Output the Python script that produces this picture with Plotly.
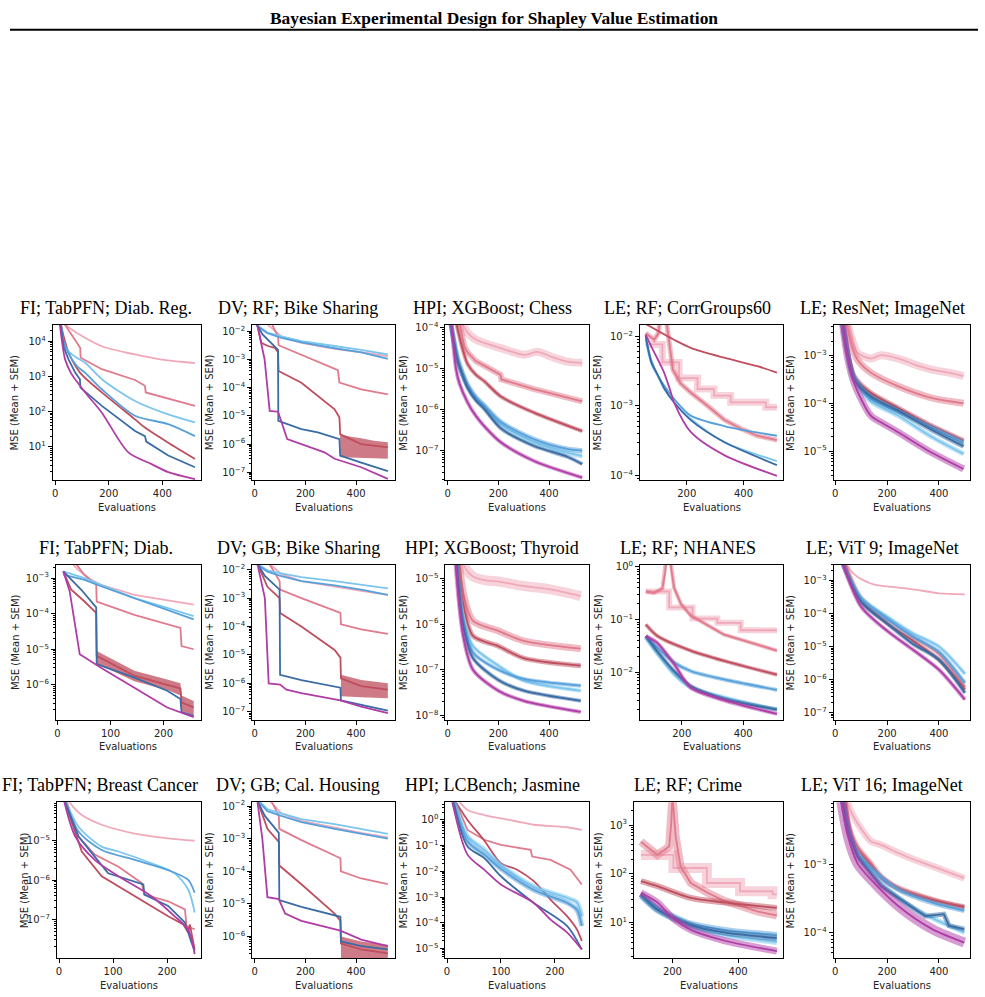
import plotly.graph_objects as go

FIG_W, FIG_H = 985, 997

COLORS = {"pp": "#F0A9BA", "pk": "#E07A8C", "dr": "#BF4E5F",
          "lb": "#7CC6EE", "mb": "#56A0DB", "db": "#3B6CA4", "pu": "#B03CA6"}
ORDER = ["pp", "pk", "dr", "lb", "mb", "db", "pu"]

# ---------------- data (x = evaluations, y = MSE) ----------------
DIAB_REG = {
    "pp": ([30, 87, 174, 298, 398, 522], [3.2e4, 1.6e4, 7.2e3, 4.2e3, 3.0e3, 2.4e3]),
    "pk": ([25, 60, 93, 95, 174, 298, 335, 338, 422, 522], [4e4, 1.6e4, 6.5e3, 3.4e3, 1.6e3, 7.9e2, 5.4e2, 3.5e2, 2.3e2, 1.45e2]),
    "dr": ([18, 31, 50, 93, 174, 298, 335, 422, 522], [4e4, 1.4e4, 4.7e3, 1.26e3, 3.5e2, 60, 35, 13, 4.5]),
    "lb": ([22, 31, 50, 80, 112, 174, 298, 422, 522], [3e4, 9e3, 5.2e3, 3.4e3, 2.45e3, 8.3e2, 2e2, 83, 49]),
    "mb": ([22, 31, 50, 80, 112, 174, 298, 422, 522], [3e4, 1e4, 4.5e3, 2e3, 1.26e3, 4.3e2, 76, 44, 20]),
    "db": ([18, 31, 50, 75, 92, 94, 174, 298, 335, 340, 422, 522], [4e4, 7e3, 3e3, 1.26e3, 8.3e2, 4.8e2, 1.45e2, 28, 20, 14, 5.6, 2.6]),
    "pu": ([15, 25, 37, 60, 112, 174, 273, 360, 422, 522], [4e4, 1e4, 3e3, 1.2e3, 3.5e2, 93, 6.9, 3.2, 1.9, 1.2]),
}
BIKE_RF = {
    "pp": ([30, 105, 184, 315, 420, 525], [2.5e-2, 6.6e-3, 3.9e-3, 2.4e-3, 1.8e-3, 1.3e-3]),
    "pk": ([60, 92, 94, 184, 328, 334, 420, 525], [2.5e-2, 6.3e-3, 3.2e-3, 1.5e-3, 4.2e-4, 1.5e-4, 8.7e-5, 5.8e-5]),
    "dr": ([10, 26, 52, 79, 92, 94, 184, 315, 334, 337, 420, 525], [1.7e-2, 3.9e-3, 3.0e-3, 2.6e-3, 1.8e-3, 3.9e-4, 1.5e-4, 1.7e-5, 8.7e-6, 2.2e-6, 1.0e-6, 7.6e-7]),
    "lb": ([7, 50, 105, 184, 315, 420, 525], [1.7e-2, 9e-3, 6.6e-3, 4.5e-3, 3.0e-3, 2.2e-3, 1.5e-3]),
    "mb": ([7, 50, 105, 184, 315, 420, 525], [1.6e-2, 8.5e-3, 5.8e-3, 4e-3, 2.5e-3, 1.8e-3, 1.05e-3]),
    "db": ([10, 30, 92, 93, 184, 249, 334, 337, 420, 525], [1.7e-2, 7.9e-3, 2.2e-3, 6.6e-6, 3.4e-6, 2.6e-6, 1.5e-6, 3.9e-7, 2.2e-7, 1.1e-7]),
    "pu": ([10, 39, 59, 92, 128, 184, 275, 315, 420, 525], [1.7e-2, 1e-3, 1.5e-5, 1.4e-5, 1.5e-6, 1e-6, 5.1e-7, 3e-7, 1.5e-7, 5.8e-8]),
}
CHESS = {
    "pp": ([60, 79, 111, 144, 210, 302, 354, 407, 472, 531], [1.2e-4, 7.6e-5, 5.2e-5, 4.3e-5, 3.2e-5, 2.2e-5, 2.6e-5, 2.0e-5, 1.5e-5, 1.4e-5]),
    "pk": ([48, 66, 79, 111, 144, 208, 212, 341, 531], [1.2e-4, 3.5e-5, 2.5e-5, 1.55e-5, 1.2e-5, 7.2e-6, 5.5e-6, 3.2e-6, 1.6e-6]),
    "dr": ([35, 59, 79, 111, 144, 210, 341, 531], [1.2e-4, 3e-5, 1.3e-5, 7.2e-6, 5e-6, 2.1e-6, 8.5e-7, 3e-7]),
    "lb": ([13, 39, 59, 79, 111, 144, 210, 341, 472, 531], [1.2e-4, 1.7e-5, 7.2e-6, 3.8e-6, 1.95e-6, 1.23e-6, 4.4e-7, 1.6e-7, 8.9e-8, 7.4e-8]),
    "mb": ([13, 39, 59, 79, 111, 144, 210, 341, 472, 531], [1.2e-4, 1.8e-5, 7.6e-6, 4e-6, 2e-6, 1.26e-6, 5e-7, 1.9e-7, 1.1e-7, 1e-7]),
    "db": ([13, 39, 59, 79, 111, 144, 210, 341, 472, 531], [1.2e-4, 1.6e-5, 6.8e-6, 3.4e-6, 1.7e-6, 1.05e-6, 3.5e-7, 1.3e-7, 7.1e-8, 4.7e-8]),
    "pu": ([15, 33, 46, 79, 111, 144, 210, 341, 531], [1.2e-4, 1e-5, 4.5e-6, 1.5e-6, 7.1e-7, 4e-7, 1.6e-7, 5.6e-8, 2.2e-8]),
}
CORR60 = {
    "pp": ([55, 114, 114, 173, 173, 238, 238, 296, 296, 355, 355, 479, 479, 518],
           [7.6e-3, 7.6e-3, 4.2e-3, 4.2e-3, 2.5e-3, 2.5e-3, 1.74e-3, 1.74e-3, 1.4e-3, 1.4e-3, 1.12e-3, 1.12e-3, 9.5e-4, 9.5e-4]),
    "pk": ([55, 85, 100, 106, 118, 130, 151, 178, 214, 273, 332, 390, 449, 518],
           [1.1e-2, 8.9e-3, 1.1e-2, 3e-2, 5e-2, 1.45e-2, 3.3e-3, 2.1e-3, 1.55e-3, 1e-3, 6.3e-4, 4.7e-4, 3.7e-4, 3.2e-4]),
    "dr": ([55, 155, 214, 332, 449, 518], [1.5e-2, 8.9e-3, 6.8e-3, 4.9e-3, 3.7e-3, 3.0e-3]),
    "lb": ([55, 75, 97, 120, 155, 214, 332, 518], [8.9e-3, 4e-3, 2.7e-3, 1.74e-3, 1.12e-3, 6.5e-4, 3e-4, 1.6e-4]),
    "mb": ([55, 75, 97, 120, 155, 214, 332, 518], [1e-2, 4.5e-3, 2.8e-3, 1.95e-3, 1.26e-3, 7.2e-4, 5.1e-4, 3.7e-4]),
    "db": ([55, 75, 97, 120, 155, 214, 332, 518], [1e-2, 4.2e-3, 2.8e-3, 1.8e-3, 1.12e-3, 6.2e-4, 3e-4, 1.4e-4]),
    "pu": ([55, 75, 97, 120, 144, 155, 214, 332, 518], [1.05e-2, 7.1e-3, 4.7e-3, 3e-3, 1.55e-3, 1.12e-3, 4.2e-4, 1.95e-4, 9.8e-5]),
}
RESNET = {
    "pp": ([40, 61, 85, 137, 176, 241, 306, 371, 437, 495], [6.3e-3, 2.5e-3, 1.15e-3, 8.7e-4, 1.02e-3, 8.7e-4, 6.5e-4, 5.1e-4, 4.4e-4, 3.7e-4]),
    "pk": ([40, 61, 85, 137, 241, 371, 495], [6.3e-3, 1.8e-3, 8.3e-4, 4.4e-4, 2.3e-4, 1.3e-4, 1.0e-4]),
    "dr": ([25, 46, 72, 137, 241, 371, 495], [6.3e-3, 1.3e-3, 3.7e-4, 1.66e-4, 8.1e-5, 3.4e-5, 1.66e-5]),
    "lb": ([25, 46, 72, 137, 241, 371, 495], [6.3e-3, 1.2e-3, 3.2e-4, 1.1e-4, 5.6e-5, 2e-5, 8.7e-6]),
    "mb": ([25, 46, 72, 137, 241, 371, 495], [6.3e-3, 1.2e-3, 3.7e-4, 1.26e-4, 6.8e-5, 3.1e-5, 1.5e-5]),
    "db": ([25, 46, 72, 137, 241, 371, 495], [6.3e-3, 1.2e-3, 3.2e-4, 1.4e-4, 7.1e-5, 2.8e-5, 1.26e-5]),
    "pu": ([25, 46, 72, 137, 176, 241, 371, 495], [6.3e-3, 1e-3, 2.7e-4, 5.5e-5, 4e-5, 2.5e-5, 9.3e-6, 4.2e-6]),
}
DIAB = {
    "pp": ([10, 25, 39, 64, 82, 145, 207, 257], [5e-3, 2.8e-3, 1.7e-3, 8.9e-4, 6.5e-4, 3.4e-4, 2.45e-4, 1.8e-4]),
    "pk": ([10, 30, 50, 73, 74, 145, 232, 234, 257], [5e-3, 3.2e-3, 1.26e-3, 6.5e-4, 2.2e-4, 9.3e-5, 4e-5, 1.23e-5, 1e-5]),
    "dr": ([11, 26, 51, 73, 74, 145, 207, 232, 234, 257], [1.55e-3, 4.7e-4, 2.2e-4, 1.05e-4, 6.5e-6, 1.8e-6, 1e-6, 7.9e-7, 3.2e-7, 2.3e-7]),
    "lb": ([11, 51, 82, 145, 207, 257], [1.55e-3, 1e-3, 6.5e-4, 2.75e-4, 1.45e-4, 8.5e-5]),
    "mb": ([11, 51, 82, 145, 207, 257], [1.26e-3, 8.9e-4, 5.9e-4, 2.75e-4, 1.26e-4, 6.9e-5]),
    "db": ([11, 45, 73, 74, 145, 207, 232, 234, 257], [1.55e-3, 4.7e-4, 1.5e-4, 3.8e-6, 1.6e-6, 6.8e-7, 4e-7, 1.7e-7, 1.35e-7]),
    "pu": ([11, 23, 42, 82, 145, 207, 257], [1.55e-3, 4.3e-4, 7.2e-6, 3e-6, 8.3e-7, 2.3e-7, 1.23e-7]),
}
BIKE_GB = {
    "pp": ([35, 105, 184, 315, 420, 525], [2.5e-2, 7e-3, 4e-3, 2.5e-3, 1.8e-3, 1.3e-3]),
    "pk": ([45, 98, 100, 184, 338, 340, 420, 525], [2.5e-2, 4e-3, 2e-3, 1e-3, 3e-4, 1.2e-4, 8e-5, 5.5e-5]),
    "dr": ([10, 50, 98, 100, 184, 315, 338, 340, 420, 525], [1.7e-2, 2.5e-3, 1e-3, 3e-4, 1e-4, 1.5e-5, 8e-6, 1.5e-6, 8e-7, 6e-7]),
    "lb": ([7, 50, 105, 184, 315, 420, 525], [1.7e-2, 9.5e-3, 7.5e-3, 5.5e-3, 4e-3, 3e-3, 2.2e-3]),
    "mb": ([7, 50, 105, 184, 315, 420, 525], [1.6e-2, 8.5e-3, 6e-3, 4e-3, 2.8e-3, 2e-3, 1.3e-3]),
    "db": ([10, 40, 98, 100, 184, 338, 340, 420, 525], [1.7e-2, 6e-3, 2e-3, 2e-6, 1.3e-6, 7e-7, 2.5e-7, 1.8e-7, 1.1e-7]),
    "pu": ([10, 40, 55, 100, 125, 184, 338, 420, 525], [1.7e-2, 1e-3, 1e-6, 9e-7, 6e-7, 4.5e-7, 2.5e-7, 1.5e-7, 9e-8]),
}
THYROID = {
    "pp": ([55, 75, 100, 150, 200, 300, 400, 525], [2.5e-5, 1.5e-5, 1.1e-5, 9e-6, 8.5e-6, 6.8e-6, 5.8e-6, 4.1e-6]),
    "pk": ([45, 65, 100, 200, 300, 525], [2.5e-5, 4e-6, 1.17e-6, 7.1e-7, 4.3e-7, 2.9e-7]),
    "dr": ([40, 60, 100, 200, 300, 525], [2.5e-5, 3e-6, 5.5e-7, 3.3e-7, 1.8e-7, 1.23e-7]),
    "lb": ([35, 60, 100, 200, 300, 525], [2.5e-5, 1.5e-6, 3.3e-7, 1.23e-7, 5.8e-8, 3.5e-8]),
    "mb": ([35, 60, 100, 200, 300, 525], [2.5e-5, 1.3e-6, 2.4e-7, 1e-7, 6.3e-8, 4.5e-8]),
    "db": ([35, 60, 100, 200, 300, 525], [2.5e-5, 1e-6, 1.8e-7, 6e-8, 3.5e-8, 2.1e-8]),
    "pu": ([30, 60, 100, 200, 300, 525], [2.5e-5, 6e-7, 1e-7, 3.5e-8, 2.1e-8, 1.2e-8]),
}
NHANES = {
    "pp": ([83, 159, 159, 235, 235, 316, 316, 392, 392, 510], [0.34, 0.34, 0.17, 0.17, 0.105, 0.105, 0.087, 0.087, 0.063, 0.063]),
    "pk": ([83, 110, 137, 146, 152, 160, 166, 175, 197, 229, 283, 338, 392, 447, 510],
           [0.34, 0.32, 0.39, 0.79, 2.0, 2.0, 0.89, 0.4, 0.2, 0.12, 0.079, 0.052, 0.042, 0.034, 0.026]),
    "dr": ([83, 121, 229, 338, 510], [0.081, 0.049, 0.026, 0.0166, 0.0091]),
    "lb": ([83, 121, 175, 229, 338, 510], [0.045, 0.0224, 0.0093, 0.0052, 0.0034, 0.002]),
    "mb": ([83, 121, 175, 229, 338, 510], [0.049, 0.0295, 0.0155, 0.0107, 0.0074, 0.0047]),
    "db": ([83, 121, 175, 229, 338, 510], [0.049, 0.025, 0.0107, 0.0056, 0.0032, 0.002]),
    "pu": ([83, 121, 175, 229, 338, 510], [0.049, 0.036, 0.0145, 0.0052, 0.003, 0.00166]),
}
VIT9 = {
    "pp": ([45, 70, 100, 150, 200, 300, 400, 500], [3e-3, 1.6e-3, 1.1e-3, 7.5e-4, 6.6e-4, 5.4e-4, 4.1e-4, 3.8e-4]),
    "pk": ([40, 100, 200, 300, 400, 500], [3e-3, 3e-4, 7e-5, 2e-5, 6e-6, 6e-7]),
    "dr": ([35, 100, 200, 300, 400, 500], [3e-3, 2.5e-4, 5e-5, 1.5e-5, 4e-6, 5e-7]),
    "lb": ([30, 100, 200, 300, 400, 500], [3e-3, 3e-4, 8e-5, 2.5e-5, 1e-5, 1.5e-6]),
    "mb": ([30, 100, 200, 300, 400, 500], [3e-3, 2.8e-4, 7e-5, 2e-5, 7e-6, 8e-7]),
    "db": ([30, 100, 200, 300, 400, 500], [3e-3, 2.2e-4, 5e-5, 1.2e-5, 4e-6, 4e-7]),
    "pu": ([30, 100, 200, 300, 400, 500], [3e-3, 1.6e-4, 3e-5, 8e-6, 2e-6, 2.5e-7]),
}
BREAST = {
    "pp": ([15, 26, 42, 79, 140, 202, 251], [1.26e-4, 7.4e-5, 4.6e-5, 2.6e-5, 1.55e-5, 1.17e-5, 1.02e-5]),
    "pk": ([12, 36, 66, 110, 153, 158, 202, 233, 236, 251], [1.26e-4, 1.3e-5, 4.5e-6, 2.2e-6, 8.5e-7, 4.3e-7, 2.9e-7, 1.8e-7, 6.8e-8, 5.6e-8]),
    "dr": ([8, 42, 79, 140, 202, 230, 239, 242, 251], [1.26e-4, 5.4e-6, 1.26e-6, 3.9e-7, 1.2e-7, 7.4e-8, 4.6e-8, 7.4e-8, 1.74e-8]),
    "lb": ([10, 36, 79, 110, 171, 214, 239, 251], [1.26e-4, 2.3e-5, 7.2e-6, 5.4e-6, 2.7e-6, 1.5e-6, 5.8e-7, 1.5e-7]),
    "mb": ([10, 36, 79, 140, 202, 239, 251], [1.26e-4, 1.74e-5, 5.9e-6, 3.3e-6, 1.8e-6, 1.02e-6, 4.8e-7]),
    "db": ([8, 36, 66, 91, 156, 158, 202, 233, 245, 251], [1.26e-4, 1.3e-5, 4e-6, 1.5e-6, 7.8e-7, 4.3e-7, 2.2e-7, 8.3e-8, 2.6e-8, 1.6e-8]),
    "pu": ([8, 30, 66, 110, 171, 214, 239, 251], [1.26e-4, 1.3e-5, 3.3e-6, 1.26e-6, 3.9e-7, 1.2e-7, 5.5e-8, 1.3e-8]),
}
CAL = {
    "pp": ([30, 105, 184, 315, 420, 525], [2.5e-2, 6e-3, 3.5e-3, 2.2e-3, 1.5e-3, 1.1e-3]),
    "pk": ([50, 95, 97, 184, 338, 340, 420, 525], [2.5e-2, 5e-3, 2e-3, 9e-4, 2.5e-4, 1e-4, 6e-5, 4e-5]),
    "dr": ([10, 50, 95, 97, 184, 315, 338, 340, 420, 525], [1.5e-2, 2e-3, 8e-4, 1.5e-4, 4e-5, 5e-6, 3e-6, 6e-7, 4e-7, 3e-7]),
    "lb": ([7, 50, 105, 184, 315, 420, 525], [1.7e-2, 8e-3, 6e-3, 4e-3, 2.8e-3, 2e-3, 1.4e-3]),
    "mb": ([7, 50, 105, 184, 315, 420, 525], [1.6e-2, 7e-3, 5e-3, 3.2e-3, 2e-3, 1.4e-3, 1e-3]),
    "db": ([10, 40, 95, 97, 184, 338, 340, 420, 525], [1.5e-2, 5e-3, 1.5e-3, 1.3e-5, 8e-6, 4e-6, 7e-7, 5e-7, 4e-7]),
    "pu": ([10, 30, 50, 95, 120, 184, 338, 420, 525], [1.5e-2, 1e-3, 1.6e-5, 1.4e-5, 5e-6, 3e-6, 1.5e-6, 8e-7, 5e-7]),
}
JASMINE = {
    "pp": ([15, 23, 38, 69, 100, 130, 161, 223, 250], [7.9, 5, 2.45, 1.55, 1.15, 0.87, 0.65, 0.52, 0.41]),
    "pk": ([12, 38, 69, 100, 155, 158, 192, 229, 250], [7.9, 0.41, 0.17, 0.107, 0.069, 0.038, 0.028, 0.0117, 0.0031]),
    "dr": ([10, 38, 69, 100, 130, 161, 192, 223, 241, 250], [7.9, 1.0, 0.16, 0.021, 0.0117, 0.0042, 8.1e-4, 1.8e-4, 5.6e-5, 2e-5]),
    "lb": ([10, 38, 69, 100, 161, 223, 241, 250], [7.9, 0.23, 0.069, 0.0178, 0.0026, 9.3e-4, 6.3e-4, 1.8e-4]),
    "mb": ([10, 38, 69, 100, 161, 223, 241, 250], [7.9, 0.145, 0.045, 0.0126, 0.0019, 6e-4, 3.2e-4, 7.6e-5]),
    "db": ([10, 38, 69, 100, 161, 223, 250], [7.9, 0.093, 0.033, 0.0065, 6e-4, 7.6e-5, 9.3e-6]),
    "pu": ([8, 38, 69, 100, 161, 192, 223, 250], [7.9, 0.045, 0.0117, 0.0031, 6e-4, 1.35e-4, 4.2e-5, 9.3e-6]),
}
CRIME = {
    "pp": ([104, 203, 203, 305, 305, 406, 406, 505, 505, 518], [245, 245, 132, 132, 65, 65, 44, 44, 38, 38]),
    "pk": ([104, 154, 190, 196, 200, 205, 210, 225, 256, 307, 357, 408, 458, 518],
           [457, 245, 363, 1000, 4000, 1600, 575, 141, 65, 41, 28, 22, 17, 14]),
    "dr": ([104, 154, 256, 357, 518], [71, 56, 32, 26, 20]),
    "lb": ([104, 154, 256, 357, 518], [35, 17.8, 8.5, 5.6, 4]),
    "mb": ([104, 154, 256, 357, 518], [38, 20, 9.5, 7.1, 5.6]),
    "db": ([104, 154, 256, 357, 518], [38, 18.6, 8.9, 6.3, 4.8]),
    "pu": ([104, 154, 205, 256, 357, 518], [41, 26, 11.7, 7.1, 4.3, 2.6]),
}
VIT16 = {
    "pp": ([40, 61, 85, 138, 177, 243, 308, 374, 498], [1e-2, 6e-3, 4.1e-3, 2.2e-3, 1.95e-3, 1.48e-3, 1.17e-3, 9.5e-4, 6.3e-4]),
    "pk": ([35, 55, 85, 138, 177, 243, 374, 498], [1e-2, 3.5e-3, 1.86e-3, 1.05e-3, 6.8e-4, 4.6e-4, 3.1e-4, 2.3e-4]),
    "dr": ([35, 55, 85, 138, 177, 243, 374, 498], [1e-2, 3.2e-3, 1.66e-3, 9.5e-4, 6.3e-4, 4.4e-4, 3e-4, 2.4e-4]),
    "lb": ([25, 50, 85, 177, 308, 498], [1e-2, 3.2e-3, 1.48e-3, 5.4e-4, 2.2e-4, 1e-4]),
    "mb": ([25, 50, 85, 138, 243, 374, 498], [1e-2, 3.2e-3, 1.48e-3, 8.9e-4, 4.3e-4, 2.75e-4, 2.1e-4]),
    "db": ([25, 50, 85, 177, 308, 347, 419, 439, 498], [1e-2, 3e-3, 1.3e-3, 4.8e-4, 2.2e-4, 1.74e-4, 1.86e-4, 1.26e-4, 1.12e-4]),
    "pu": ([20, 50, 85, 138, 243, 374, 498], [1e-2, 2.5e-3, 1.05e-3, 6e-4, 2.45e-4, 1.12e-4, 7.1e-5]),
}

# explicit wide SEM bands: (panel index, key, x, lower, upper)
WIDE_BANDS = [
    (1, "dr", [337, 380, 420, 470, 525], [3.4e-7, 3.3e-7, 3.2e-7, 3.1e-7, 3e-7], [2.2e-6, 1.8e-6, 1.6e-6, 1.3e-6, 1.15e-6]),
    (5, "dr", [74, 145, 207, 232, 234, 257], [4e-6, 1.26e-6, 7.1e-7, 5e-7, 1.8e-7, 1.4e-7], [8.9e-6, 2.5e-6, 1.4e-6, 1.1e-6, 5e-7, 3.5e-7]),
    (6, "dr", [340, 420, 525], [3.5e-7, 3.2e-7, 3e-7], [2e-6, 1.3e-6, 1e-6]),
    (11, "dr", [340, 420, 525], [1.8e-7, 1.7e-7, 1.6e-7], [1e-6, 7e-7, 5.5e-7]),
]

TITLES = ["FI; TabPFN; Diab. Reg.", "DV; RF; Bike Sharing", "HPI; XGBoost; Chess", "LE; RF; CorrGroups60", "LE; ResNet; ImageNet",
          "FI; TabPFN; Diab.", "DV; GB; Bike Sharing", "HPI; XGBoost; Thyroid", "LE; RF; NHANES", "LE; ViT 9; ImageNet",
          "FI; TabPFN; Breast Cancer", "DV; GB; Cal. Housing", "HPI; LCBench; Jasmine", "LE; RF; Crime", "LE; ViT 16; ImageNet"]
DATA = [DIAB_REG, BIKE_RF, CHESS, CORR60, RESNET, DIAB, BIKE_GB, THYROID, NHANES, VIT9, BREAST, CAL, JASMINE, CRIME, VIT16]
X_RANGES = [[-10, 543], [-10, 554], [-9, 557], [35, 541], [-6.5, 520],
            [-3, 270], [-10, 554], [-9, 557], [64, 531], [-6.5, 520],
            [-4, 262], [-10, 554], [-3, 263], [83, 538], [-6.5, 520]]
Y_RANGES_LOG = [[0.05, 4.46], [-7.28, -1.78], [-7.72, -3.93], [-4.07, -1.84], [-5.61, -2.36],
                [-6.98, -2.62], [-7.28, -1.82], [-8.09, -4.7], [-2.89, 0.04], [-7.21, -2.52],
                [-7.99, -4.01], [-6.67, -1.88], [-5.37, 0.69], [0.27, 3.47], [-4.38, -2.08]]
X_TICKS = [[0, 200, 400], [0, 200, 400], [0, 200, 400], [200, 400], [0, 200, 400],
           [0, 100, 200], [0, 200, 400], [0, 200, 400], [200, 400], [0, 200, 400],
           [0, 100, 200], [0, 200, 400], [0, 100, 200], [200, 400], [0, 200, 400]]
Y_TICK_EXP = [[1, 2, 3, 4], [-7, -6, -5, -4, -3, -2], [-7, -6, -5, -4], [-4, -3, -2], [-5, -4, -3],
              [-6, -5, -4, -3], [-7, -6, -5, -4, -3, -2], [-8, -7, -6, -5], [-2, -1, 0], [-7, -6, -5, -4, -3],
              [-7, -6, -5], [-6, -5, -4, -3, -2], [-5, -4, -3, -2, -1, 0], [1, 2, 3], [-4, -3]]

# ---------------- styling / geometry (pixels) ----------------
BAND_PX = {
    2: {"pp": 8, "pk": 6, "dr": 4, "lb": 5, "mb": 5, "db": 4, "pu": 4},
    3: {"pp": 7, "pk": 5},
    4: {"pp": 8, "pk": 7, "dr": 5, "lb": 5, "mb": 5, "db": 5, "pu": 7},
    7: {"pp": 10, "pk": 7, "dr": 5, "lb": 4, "mb": 4, "db": 4, "pu": 4},
    8: {"pp": 6, "pk": 4, "dr": 4, "lb": 4, "mb": 4, "db": 4, "pu": 4},
    9: {"pk": 4, "dr": 4, "lb": 4, "mb": 4, "db": 4, "pu": 4},
    12: {"lb": 5, "mb": 5},
    13: {"pp": 10, "pk": 8, "dr": 6, "lb": 6, "mb": 6, "db": 6, "pu": 7},
    14: {"pp": 7, "pk": 5, "dr": 5, "lb": 5, "mb": 5, "db": 5, "pu": 10},
}
# series drawn with a smoothed line (no step changes)
SMOOTH = {
    0: ["pp", "dr", "lb", "mb", "pu"], 2: ["pp", "dr", "lb", "mb", "db", "pu"], 3: ["dr", "lb", "mb", "db", "pu"],
    4: ["pp", "pk", "dr", "lb", "mb", "db", "pu"], 7: ["pp", "pk", "dr", "lb", "mb", "db", "pu"],
    8: ["dr", "lb", "mb", "db", "pu"], 9: ["pp", "pk", "dr", "lb", "mb", "db", "pu"], 10: ["pp", "lb", "mb", "pu"],
    12: ["pp", "dr", "lb", "mb", "db", "pu"], 13: ["dr", "lb", "mb", "db", "pu"],
    14: ["pp", "pk", "dr", "lb", "mb", "pu"],
}
COL_RIGHT = [199, 394, 588, 783, 970]
PLOT_LEFT = [[50.7, 250.7, 444.3, 639.3, 833.3],
             [54, 250.7, 444.3, 639.3, 833.3],
             [55, 250.7, 444.3, 633.3, 833.3]]
ROW_TOP = [322, 563, 802]
ROW_BOT = [478, 719, 959]
TITLE_Y = [305, 546, 785]
XLAB_Y = [506, 746, 986]
TITLE_X = [[104, 297, 491, 687, 882], [104, 297, 491, 687, 882], [98, 297, 491, 687, 882]]
YLAB_X = [[13, 208, 402, 597, 790], [13, 208, 402, 597, 790], [22, 208, 402, 597, 790]]

fig = go.Figure()
annotations = []
layout = {}

for i in range(15):
    r, c = divmod(i, 5)
    n = i + 1
    xa = "x" if n == 1 else f"x{n}"
    ya = "y" if n == 1 else f"y{n}"
    left, right = PLOT_LEFT[r][c], COL_RIGHT[c]
    top, bot = ROW_TOP[r], ROW_BOT[r]
    lo_e, hi_e = Y_RANGES_LOG[i]
    minor_vals = [m * 10.0 ** k for k in range(int(lo_e) - 2, int(hi_e) + 2) for m in range(2, 10)]
    layout["xaxis" if n == 1 else f"xaxis{n}"] = dict(
        domain=[left / FIG_W, right / FIG_W], anchor=ya, range=X_RANGES[i],
        tickmode="array", tickvals=X_TICKS[i], ticks="outside", ticklen=4, tickwidth=1,
        tickcolor="black", showline=True, linecolor="black", linewidth=1, mirror=True,
        showgrid=False, zeroline=False, tickfont=dict(family="DejaVu Sans", size=10, color="#222"))
    layout["yaxis" if n == 1 else f"yaxis{n}"] = dict(
        domain=[1 - bot / FIG_H, 1 - top / FIG_H], anchor=xa, type="log", range=[lo_e, hi_e],
        tickmode="array", tickvals=[10.0 ** k for k in Y_TICK_EXP[i]],
        ticktext=["10<sup>%s</sup>" % (str(k).replace("-", "\u2212")) for k in Y_TICK_EXP[i]],
        ticks="outside", ticklen=4, tickwidth=1, tickcolor="black",
        minor=dict(tickmode="array", tickvals=minor_vals, ticks="outside", ticklen=2, tickwidth=0.8, tickcolor="black", showgrid=False),
        showline=True, linecolor="black", linewidth=1, mirror=True, showgrid=False, zeroline=False,
        tickfont=dict(family="DejaVu Sans", size=10, color="#222"))

    data = DATA[i]
    bands = BAND_PX.get(i, {})
    smooth = SMOOTH.get(i, [])
    for key in ORDER:
        xs, ys = data[key]
        shape = "spline" if key in smooth else "linear"
        for (bi, bk, bx, blo, bhi) in WIDE_BANDS:
            if bi == i and bk == key:
                fig.add_trace(go.Scatter(x=bx + bx[::-1], y=bhi + blo[::-1], fill="toself", mode="lines",
                                         line=dict(width=0), fillcolor=COLORS[key], opacity=0.75,
                                         xaxis=xa, yaxis=ya, showlegend=False, hoverinfo="skip"))
        if key in bands:
            fig.add_trace(go.Scatter(x=xs, y=ys, mode="lines", opacity=0.5,
                                     line=dict(color=COLORS[key], width=bands[key], shape=shape, smoothing=0.8),
                                     xaxis=xa, yaxis=ya, showlegend=False, hoverinfo="skip"))
        fig.add_trace(go.Scatter(x=xs, y=ys, mode="lines",
                                 line=dict(color=COLORS[key], width=1.8, shape=shape, smoothing=0.8),
                                 xaxis=xa, yaxis=ya, showlegend=False))

    annotations.append(dict(text=TITLES[i], x=TITLE_X[r][c] / FIG_W, y=1 - TITLE_Y[r] / FIG_H, xref="paper", yref="paper",
                            showarrow=False, xanchor="center", yanchor="middle",
                            font=dict(family="Liberation Serif", size=18, color="black")))
    annotations.append(dict(text="Evaluations", x=(left + right) / 2 / FIG_W, y=1 - XLAB_Y[r] / FIG_H, xref="paper", yref="paper",
                            showarrow=False, xanchor="center", yanchor="middle",
                            font=dict(family="DejaVu Sans", size=10, color="#222")))
    annotations.append(dict(text="MSE (Mean + SEM)", x=YLAB_X[r][c] / FIG_W, y=1 - (top + bot) / 2 / FIG_H, xref="paper", yref="paper",
                            showarrow=False, xanchor="center", yanchor="middle", textangle=-90,
                            font=dict(family="DejaVu Sans", size=10, color="#222")))

annotations.append(dict(text="<b>Bayesian Experimental Design for Shapley Value Estimation</b>", x=0.5, y=1 - 13 / FIG_H,
                        xref="paper", yref="paper", showarrow=False, xanchor="center", yanchor="middle",
                        font=dict(family="Liberation Serif", size=17.4, color="black")))

fig.update_layout(width=FIG_W, height=FIG_H, margin=dict(l=0, r=0, t=0, b=0),
                  paper_bgcolor="white", plot_bgcolor="white", annotations=annotations,
                  shapes=[dict(type="line", xref="paper", yref="paper", x0=8 / FIG_W, x1=978 / FIG_W,
                               y0=1 - 25 / FIG_H, y1=1 - 25 / FIG_H, line=dict(color="black", width=2))],
                  **layout)
fig.write_html("out.html")
